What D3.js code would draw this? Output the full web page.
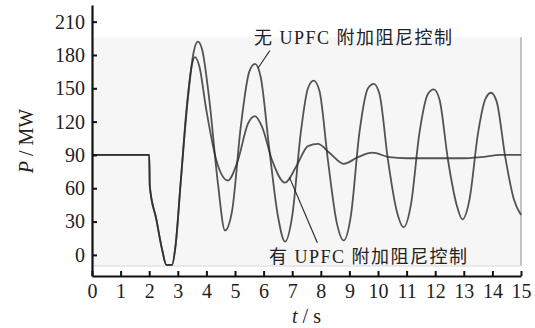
<!DOCTYPE html>
<html>
<head>
<meta charset="utf-8">
<script src="https://cdn.jsdelivr.net/npm/d3@7"></script>
<style>
  body { margin: 0; background: #fff; }
  svg text { font-family: "Liberation Serif", "Noto Sans CJK SC", serif; fill: #222; }
</style>
</head>
<body>
<div class="chart"></div>
<script>
const width = 535;
const height = 328;

// 无 UPFC 附加阻尼控制 (undamped)
const tNo = [0, 2.0, 2.02, 2.25, 2.45, 2.6, 2.8, 2.92, 3.1, 3.35, 3.55, 3.7, 3.85, 4.1, 4.4, 4.65, 4.9, 5.2, 5.5, 5.7, 5.9, 6.2, 6.5, 6.75, 7.0, 7.3, 7.55, 7.75, 7.95, 8.25, 8.55, 8.8, 9.05, 9.35, 9.65, 9.85, 10.05, 10.35, 10.65, 10.9, 11.15, 11.45, 11.75, 11.95, 12.15, 12.45, 12.75, 12.95, 13.2, 13.5, 13.75, 13.95, 14.15, 14.45, 14.75, 15];
const pNo = [90, 90, 62, 32, 5, -9, -9, 8, 65, 140, 182, 192, 185, 140, 65, 22, 40, 115, 165, 172, 160, 95, 35, 12, 35, 110, 150, 157, 148, 85, 30, 13, 35, 110, 150, 154, 145, 85, 40, 25, 45, 110, 145, 149, 140, 85, 45, 32, 50, 110, 140, 146, 138, 88, 50, 36];

// 有 UPFC 附加阻尼控制 (damped)
const tYes = [0, 2.0, 2.02, 2.25, 2.45, 2.6, 2.8, 2.92, 3.1, 3.3, 3.5, 3.6, 3.75, 4.0, 4.35, 4.75, 5.1, 5.45, 5.7, 5.95, 6.3, 6.75, 7.15, 7.55, 7.9, 8.3, 8.8, 9.3, 9.8, 10.4, 11, 12, 13, 13.6, 14.3, 15];
const pYes = [90, 90, 62, 32, 5, -9, -9, 8, 65, 130, 172, 178, 170, 130, 85, 67, 85, 118, 125, 115, 85, 65, 80, 98, 100, 92, 82, 88, 92, 88, 87, 87, 87, 88, 90, 90];

const xTicks = d3.range(0, 16, 1);
const yTicks = [0, 30, 60, 90, 120, 150, 180, 210];

const svg = d3.select(".chart")
   .append("svg")
   .attr("width", width)
   .attr("height", height);

const x = d3.scaleLinear().domain([0, 15]).range([92, 521]);
const y = d3.scaleLinear().domain([-19, 225]).range([276, 5]);

// scanned plot background
svg.append("rect")
   .attr("x", x(0))
   .attr("y", y(196))
   .attr("width", x(15) - x(0))
   .attr("height", y(-10) - y(196))
   .attr("fill", "#f6f6f6");

svg.append("line")
   .attr("x1", x(15)).attr("x2", x(15))
   .attr("y1", y(196)).attr("y2", y(-10))
   .attr("stroke", "#c4c4c4")
   .attr("stroke-width", 2);

svg.append("line")
   .attr("x1", x(0)).attr("x2", x(15))
   .attr("y1", y(-10)).attr("y2", y(-10))
   .attr("stroke", "#e2e2e2")
   .attr("stroke-width", 1.5);

// curves
const line = d3.line()
   .x((d) => x(d[0]))
   .y((d) => y(d[1]))
   .curve(d3.curveMonotoneX);

const series = [
   { t: tYes, p: pYes },
   { t: tNo, p: pNo }
];

series.forEach((s) => {
   svg.append("path")
      .datum(s.t.map((t, i) => [t, s.p[i]]))
      .attr("d", line)
      .attr("fill", "none")
      .attr("stroke", "#2b2b2b")
      .attr("stroke-opacity", 0.8)
      .attr("stroke-width", 1.8);
});

// axes
const xAxis = d3.axisBottom(x)
   .tickValues(xTicks)
   .tickSize(-5)
   .tickSizeOuter(0)
   .tickPadding(8);

const yAxis = d3.axisLeft(y)
   .tickValues(yTicks)
   .tickSize(-5)
   .tickSizeOuter(0)
   .tickPadding(7);

const gx = svg.append("g")
   .attr("transform", `translate(0, ${y(-19)})`)
   .call(xAxis);

const gy = svg.append("g")
   .attr("transform", `translate(${x(0)}, 0)`)
   .call(yAxis);

[gx, gy].forEach((g) => {
   g.attr("font-family", null).attr("font-size", null);
   g.select(".domain").attr("stroke", "#111").attr("stroke-width", 2.2);
   g.selectAll(".tick line").attr("stroke", "#111").attr("stroke-width", 2);
   g.selectAll(".tick text")
      .style("font-family", "'Liberation Serif', serif")
      .style("font-size", "20px")
      .style("fill", "#222");
});

// axis titles
const xt = svg.append("text")
   .attr("x", x(7.5))
   .attr("y", 323)
   .attr("text-anchor", "middle")
   .attr("font-size", 20);
xt.append("tspan").attr("font-style", "italic").text("t");
xt.append("tspan").text(" / s");

const yt = svg.append("text")
   .attr("transform", `translate(33, 141) rotate(-90)`)
   .attr("text-anchor", "middle")
   .attr("font-size", 20);
yt.append("tspan").attr("font-style", "italic").text("P");
yt.append("tspan").text(" / MW");

// annotations
const notes = [
   { text: "无 UPFC 附加阻尼控制", at: [5.8, 168], to: [6.22, 184], tx: 254, ty: 44 },
   { text: "有 UPFC 附加阻尼控制", at: [6.9, 70], to: [7.88, 11], tx: 269, ty: 263 }
];

notes.forEach((n) => {
   svg.append("line")
      .attr("x1", x(n.at[0])).attr("y1", y(n.at[1]))
      .attr("x2", x(n.to[0])).attr("y2", y(n.to[1]))
      .attr("stroke", "#222")
      .attr("stroke-width", 1.1);
   svg.append("text")
      .attr("x", n.tx)
      .attr("y", n.ty)
      .attr("font-size", 18)
      .attr("letter-spacing", "1.5px")
      .text(n.text);
});
</script>
</body>
</html>
